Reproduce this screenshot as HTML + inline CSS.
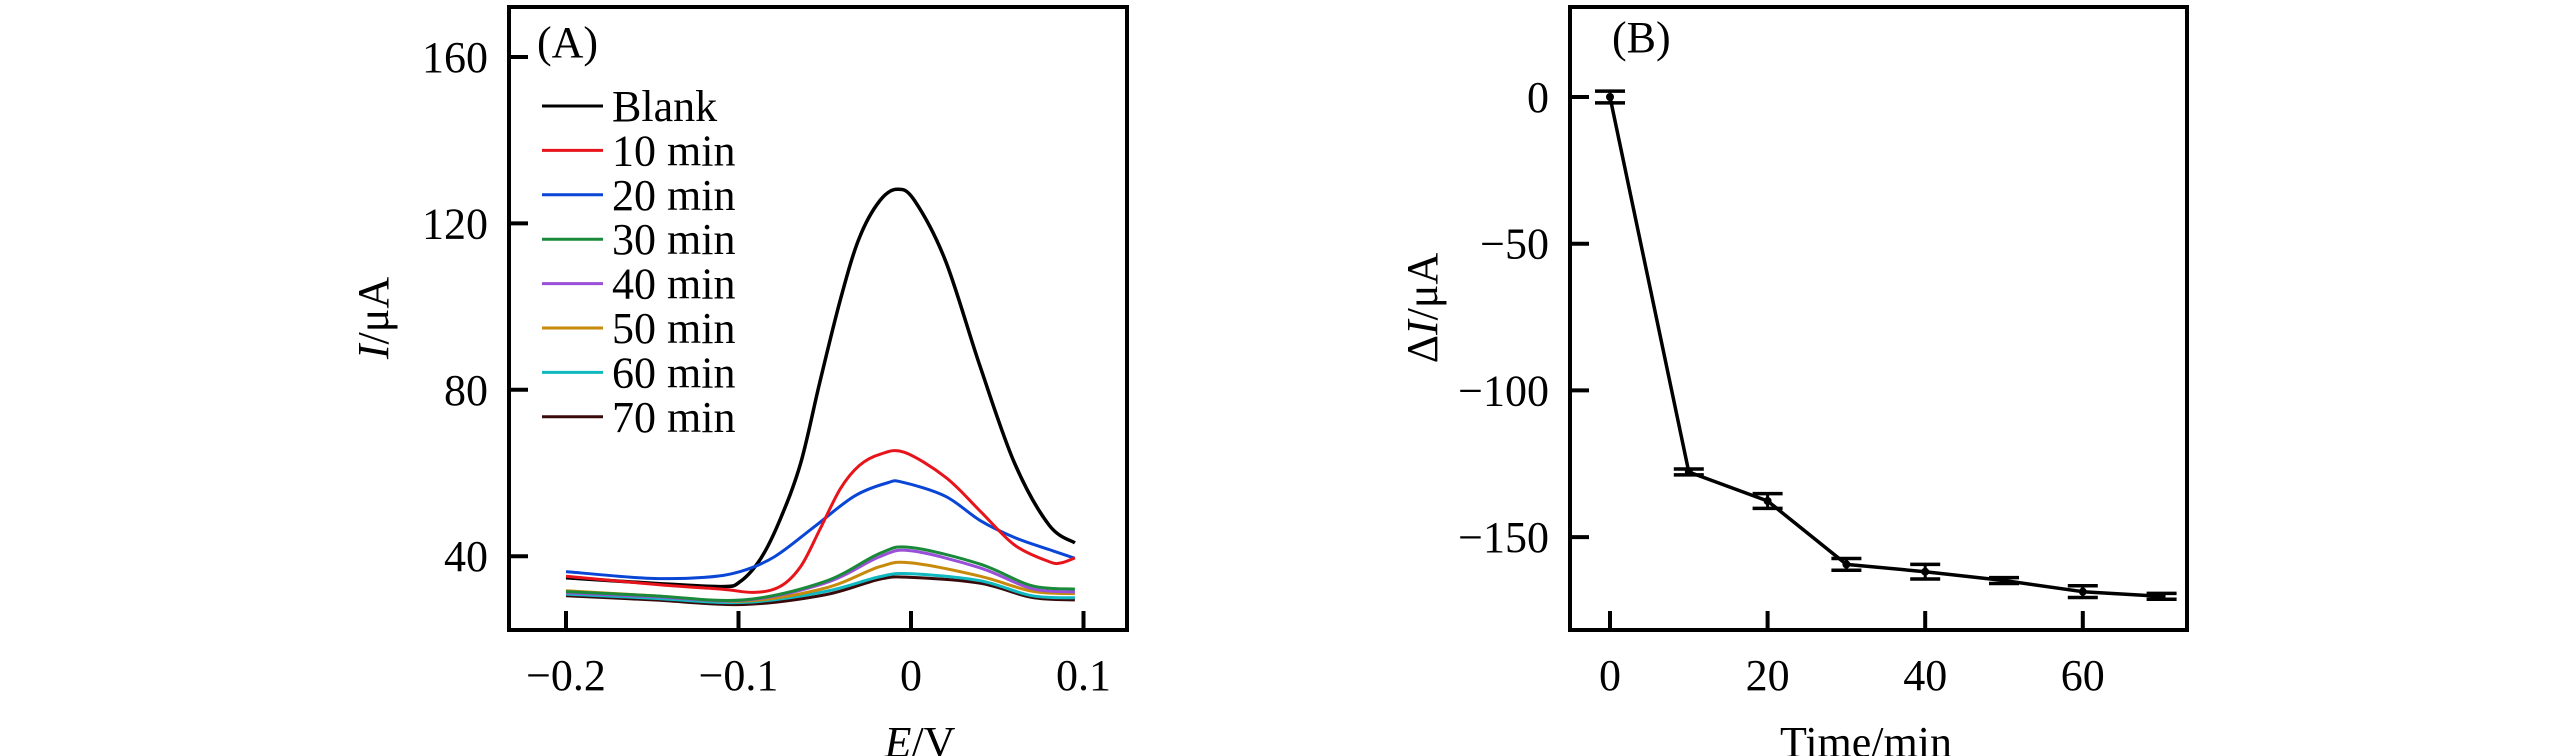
<!DOCTYPE html>
<html><head><meta charset="utf-8"><style>
html,body{margin:0;padding:0;background:#fff;}
svg{display:block;}
text{font-family:"Liberation Serif",serif;fill:#000;}
</style></head><body>
<svg id="chart" width="2567" height="756" viewBox="0 0 2567 756" xmlns="http://www.w3.org/2000/svg">
<g id="panelA"></g>
<g id="panelB"></g>
</svg>
<script>
// Panel A data
const eGridBig = [-0.2,-0.15,-0.11,-0.099,-0.087,-0.076,-0.064,-0.053,-0.041,-0.03,-0.018,-0.008,0.002,0.02,0.04,0.06,0.08,0.095];
const blankVals = [34.8,33.5,32.7,33.9,39.5,48.7,62.3,81.6,101.6,116.5,125.5,128.2,125.5,111,85.7,62.4,47.5,43.2];
const eGridRed = [-0.2,-0.145,-0.11,-0.091,-0.076,-0.064,-0.053,-0.041,-0.03,-0.018,-0.004,0.02,0.04,0.06,0.08,0.087,0.095];
const min10Vals = [35.2,33.1,32.1,31.3,32.7,37.5,46.3,56.2,61.8,64.5,65,59,50.9,42.7,38.7,38.4,39.6];
const eGridBlue = [-0.2,-0.153,-0.12,-0.099,-0.079,-0.056,-0.033,-0.014,-0.005,0.02,0.04,0.06,0.08,0.095];
const min20Vals = [36.3,34.7,34.9,36.3,39.9,47.1,54.4,57.6,57.8,54.4,48.6,44.5,41.6,39.5];
const eGridLow = [-0.2,-0.15,-0.097,-0.05,-0.018,0,0.04,0.07,0.095];
const min30Vals = [31.5,30.5,29.5,33.9,40.7,42.1,38.1,32.9,32.1];
const min40Vals = [31.2,30.3,29.4,33.5,39.9,41.3,37.2,32.2,31.4];
const min50Vals = [31.7,30.5,29.2,32.3,37.5,38.4,35.2,31.6,31.0];
const min60Vals = [30.9,29.9,28.9,31.5,35.1,35.8,34.1,30.5,30.0];
const min70Vals = [30.5,29.5,28.4,30.7,34.5,34.9,33.5,30.1,29.5];
const seriesNames = ["Blank","10 min","20 min","30 min","40 min","50 min","60 min","70 min"];
const yTicksA = [40,80,120,160];
const xTicksA = [-0.2,-0.1,0,0.1];
const xTickLabelsA = ["\u22120.2","\u22120.1","0","0.1"];
// Panel B data
const timeCats = [0,10,20,30,40,50,60,70];
const deltaI = [0,-127.8,-137.7,-159.3,-161.8,-164.8,-168.6,-170.2];
const deltaErr = [2,1,2.5,2,2.5,1,2,1];
const yTicksB = [0,-50,-100,-150];
const yTickLabelsB = ["0","\u221250","\u2212100","\u2212150"];
const xTicksB = [0,20,40,60];

const NS="http://www.w3.org/2000/svg";
function mk(parent,tag,attrs){const e=document.createElementNS(NS,tag);for(const k in attrs)e.setAttribute(k,attrs[k]);parent.appendChild(e);return e;}
function smoothPath(pts){let d="M"+pts[0][0].toFixed(1)+","+pts[0][1].toFixed(1);
 for(let i=0;i<pts.length-1;i++){const p0=pts[i-1]||pts[i],p1=pts[i],p2=pts[i+1],p3=pts[i+2]||p2;
  const c1=[p1[0]+(p2[0]-p0[0])/6,p1[1]+(p2[1]-p0[1])/6],c2=[p2[0]-(p3[0]-p1[0])/6,p2[1]-(p3[1]-p1[1])/6];
  d+=" C"+c1[0].toFixed(1)+","+c1[1].toFixed(1)+" "+c2[0].toFixed(1)+","+c2[1].toFixed(1)+" "+p2[0].toFixed(1)+","+p2[1].toFixed(1);}
 return d;}

// ---- Panel A ----
const A=document.getElementById('panelA');
const xA=e=>911+e*1725, yA=v=>57+(160-v)*4.16;
const boxA={l:509,t:7,r:1127,b:630};
const series=[[eGridBig,blankVals,"#000000",3.5],[eGridRed,min10Vals,"#e8141c",3],[eGridBlue,min20Vals,"#0a46d6",3],
 [eGridLow,min30Vals,"#1a8a3a",3],[eGridLow,min40Vals,"#9a4fd8",3],[eGridLow,min50Vals,"#c88a0a",3],
 [eGridLow,min60Vals,"#10b8c0",3],[eGridLow,min70Vals,"#3a0a0a",3]];
const drawOrder=[7,6,5,4,3,0,2,1];
drawOrder.forEach(i=>{const s=series[i];const pts=s[0].map((e,j)=>[xA(e),yA(s[1][j])]);
 const p=mk(A,'path',{d:smoothPath(pts),fill:'none',stroke:s[2],'stroke-width':s[3],'stroke-linejoin':'round'});
 
 });
const rA=mk(A,'rect',{x:boxA.l,y:boxA.t,width:boxA.r-boxA.l,height:boxA.b-boxA.t,fill:'none',stroke:'#000','stroke-width':4});


yTicksA.forEach(v=>{const y=yA(v);
 const t=mk(A,'line',{x1:boxA.l,x2:boxA.l+19,y1:y,y2:y,stroke:'#000','stroke-width':4});
 
 
 const l=mk(A,'text',{x:488,y:y+15,'text-anchor':'end','font-size':44});l.textContent=v;
 
 });
xTicksA.forEach((e,i)=>{const x=xA(e);
 const t=mk(A,'line',{x1:x,x2:x,y1:boxA.b,y2:boxA.b-19,stroke:'#000','stroke-width':4});
 
 
 const l=mk(A,'text',{x:x,y:690,'text-anchor':'middle','font-size':44});l.textContent=xTickLabelsA[i];
 
 });
const la=mk(A,'text',{x:537,y:57,'font-size':44});la.textContent="(A)";


seriesNames.forEach((n,i)=>{const y=106+i*44.4;
 const ln=mk(A,'line',{x1:542,x2:603,y1:y,y2:y,stroke:series[i][2],'stroke-width':3});
 
 
 const tx=mk(A,'text',{x:612,y:y+15,'font-size':44});tx.textContent=n;
 
 });
const yla=mk(A,'text',{x:0,y:0,'font-size':44,'text-anchor':'middle',transform:'translate(388,318) rotate(-90)'});
yla.innerHTML='<tspan font-style="italic">I</tspan>/μA';


const xla=mk(A,'text',{x:920,y:757,'font-size':44,'text-anchor':'middle'});
xla.innerHTML='<tspan font-style="italic">E</tspan>/V';



// ---- Panel B ----
const B=document.getElementById('panelB');
const xB=t=>1610+t*7.88, yB=v=>97-v*2.934;
const boxB={l:1570,t:7,r:2187,b:630};
const lp=timeCats.map((t,i)=>xB(t).toFixed(1)+","+yB(deltaI[i]).toFixed(1)).join(" ");
const pl=mk(B,'polyline',{points:lp,fill:'none',stroke:'#000','stroke-width':3.5,'stroke-linejoin':'round'});


timeCats.forEach((t,i)=>{const x=xB(t),y=yB(deltaI[i]),y1=yB(deltaI[i]+deltaErr[i]),y2=yB(deltaI[i]-deltaErr[i]);
 const g=mk(B,'g',{});
 
 
 mk(g,'line',{x1:x,x2:x,y1:y1,y2:y2,stroke:'#000','stroke-width':3});
 mk(g,'line',{x1:x-15,x2:x+15,y1:y1,y2:y1,stroke:'#000','stroke-width':3.5});
 mk(g,'line',{x1:x-15,x2:x+15,y1:y2,y2:y2,stroke:'#000','stroke-width':3.5});
 const c=mk(B,'circle',{cx:x,cy:y,r:4,fill:'#000'});
 
 });
const rB=mk(B,'rect',{x:boxB.l,y:boxB.t,width:boxB.r-boxB.l,height:boxB.b-boxB.t,fill:'none',stroke:'#000','stroke-width':4});


yTicksB.forEach((v,i)=>{const y=yB(v);
 const t=mk(B,'line',{x1:boxB.l,x2:boxB.l+19,y1:y,y2:y,stroke:'#000','stroke-width':4});
 
 
 const l=mk(B,'text',{x:1549,y:y+15,'text-anchor':'end','font-size':44});l.textContent=yTickLabelsB[i];
 
 });
xTicksB.forEach(v=>{const x=xB(v);
 const t=mk(B,'line',{x1:x,x2:x,y1:boxB.b,y2:boxB.b-19,stroke:'#000','stroke-width':4});
 
 
 const l=mk(B,'text',{x:x,y:690,'text-anchor':'middle','font-size':44});l.textContent=v;
 
 });
const lb=mk(B,'text',{x:1612,y:52,'font-size':44});lb.textContent="(B)";


const ylb=mk(B,'text',{x:0,y:0,'font-size':44,'text-anchor':'middle',transform:'translate(1437,308) rotate(-90)'});
ylb.innerHTML='Δ<tspan font-style="italic">I</tspan>/μA';


const xlb=mk(B,'text',{x:1866,y:757,'font-size':44,'text-anchor':'middle'});
xlb.textContent='Time/min';


</script>
</body></html>
